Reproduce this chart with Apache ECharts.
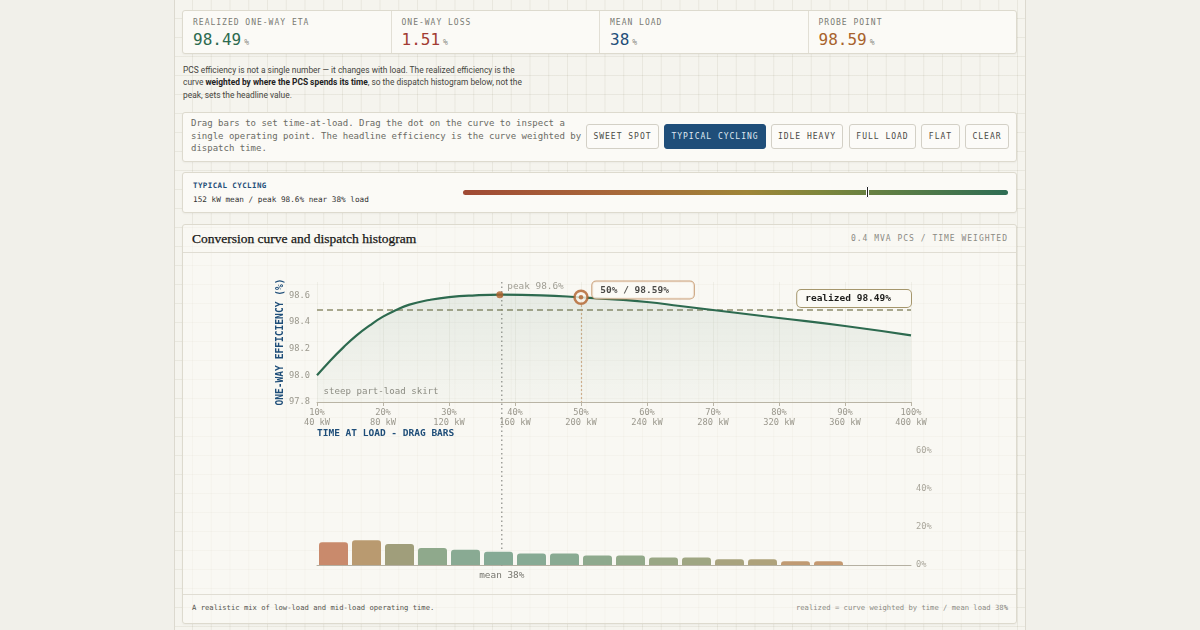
<!DOCTYPE html>
<html>
<head>
<meta charset="utf-8">
<title>Conversion curve and dispatch histogram</title>
<script src="https://cdn.jsdelivr.net/npm/echarts@6/dist/echarts.min.js"></script>
<style>
  * { box-sizing: border-box; }
  html, body { margin: 0; width: 1200px; height: 630px; overflow: hidden; background: #f1f0ea; }
  body { position: relative; font-family: 'DejaVu Sans Mono', monospace; color: #333; }
  .sheet {
    position: absolute; left: 174px; top: 0; width: 852px; height: 630px;
    border-left: 1px solid #dcd9cf; border-right: 1px solid #dcd9cf;
    background-color: #f5f4ee;
    background-image: linear-gradient(to right, rgba(70,60,20,.07) 1px, transparent 1px),
                      linear-gradient(to bottom, rgba(70,60,20,.07) 1px, transparent 1px);
    background-size: 18.75px 19px; background-position: 17px 18px;
  }
  .card {
    position: absolute; left: 182px; width: 835px; background: #fbfaf6;
    border: 1px solid #dddace; border-radius: 3px; box-shadow: 0 1px 2px rgba(0,0,0,.04);
  }
  .kpis { top: 10px; height: 44px; display: flex; }
  .kpi { flex: 1; padding: 7px 0 0 10px; border-left: 1px solid #e2dfd5; }
  .kpi:first-child { border-left: none; }
  .kpi .lab { font-size: 8px; line-height: 10px; letter-spacing: 1px; color: #7a7a74; }
  .kpi .val { font-size: 16px; line-height: 18px; margin-top: 3px; }
  .kpi .val small { font-size: 8px; color: #8a8a84; margin-left: 3px; }
  .intro {
    position: absolute; left: 183px; top: 64px; font-family: Roboto, sans-serif;
    font-size: 8.4px; line-height: 12.4px; color: #454540; white-space: nowrap;
  }
  .intro b { color: #222; font-weight: bold; }
  .controls { top: 112px; height: 50px; }
  .controls .txt {
    position: absolute; left: 8px; top: 4px; font-size: 9px; line-height: 12.7px;
    color: #6a6a64; white-space: nowrap;
  }
  .btn {
    position: absolute; top: 11px; height: 25px; border: 1px solid #d3d0c6; border-radius: 3px;
    background: #fcfbf8; font-size: 8px; letter-spacing: 1px; color: #4a4a46;
    display: flex; align-items: center; justify-content: center;
  }
  .btn.on { background: #1f4e79; border-color: #1f4e79; color: #dfe8f1; }
  .preset { top: 172px; height: 41px; }
  .preset .ttl { position: absolute; left: 10px; top: 8px; font-size: 7.5px; font-weight: bold; letter-spacing: .4px; color: #1f4e79; }
  .preset .sub { position: absolute; left: 10px; top: 22px; font-size: 7.7px; color: #333; }
  .scale {
    position: absolute; left: 280px; top: 16.5px; width: 545px; height: 5.5px; border-radius: 3px;
    background: linear-gradient(90deg, #a04a34 0%, #a8683a 28%, #9f8538 52%, #7d863c 66%, #5b7d45 80%, #2e6d54 100%);
  }
  .tick {
    position: absolute; left: 683px; top: 13px; width: 3px; height: 12px;
    background: #222; border: 0.5px solid #fff; border-radius: 1px;
  }
  .chartcard { top: 224px; height: 400px; background: rgba(251,250,246,.62); }
  .chartcard .head {
    position: absolute; left: 0; right: 0; top: 0; height: 28px; border-bottom: 1px solid #e0ddd3;
  }
  .chartcard .title {
    position: absolute; left: 9px; top: 6px; font-family: 'Liberation Serif', serif;
    font-size: 13.5px; color: #161614; -webkit-text-stroke: 0.25px #161614;
  }
  .chartcard .meta {
    position: absolute; right: 8px; top: 9px; font-size: 8px; letter-spacing: 1px; color: #8b8a83;
  }
  .chartcard .foot {
    position: absolute; left: 0; right: 0; top: 369px; height: 28px; border-top: 1px solid #e0ddd3;
    font-size: 7.2px; color: #55554f;
  }
  .foot .l { position: absolute; left: 9px; top: 8px; }
  .foot .r { position: absolute; right: 8px; top: 8px; color: #8b8a83; }
  #chart { position: absolute; left: 182px; top: 253px; width: 835px; height: 341px; }
</style>
</head>
<body>
<div class="sheet"></div>

<div class="card kpis">
  <div class="kpi"><div class="lab">REALIZED ONE-WAY ETA</div><div class="val" style="color:#2d6a4f">98.49<small>%</small></div></div>
  <div class="kpi"><div class="lab">ONE-WAY LOSS</div><div class="val" style="color:#a23b33">1.51<small>%</small></div></div>
  <div class="kpi"><div class="lab">MEAN LOAD</div><div class="val" style="color:#1f4e79">38<small>%</small></div></div>
  <div class="kpi"><div class="lab">PROBE POINT</div><div class="val" style="color:#a8632c">98.59<small>%</small></div></div>
</div>

<div class="intro">
  PCS efficiency is not a single number — it changes with load. The realized efficiency is the<br>
  curve <b>weighted by where the PCS spends its time</b>, so the dispatch histogram below, not the<br>
  peak, sets the headline value.
</div>

<div class="card controls">
  <div class="txt">Drag bars to set time-at-load. Drag the dot on the curve to inspect a<br>single operating point. The headline efficiency is the curve weighted by<br>dispatch time.</div>
  <div class="btn" style="left:403px;width:73px">SWEET SPOT</div>
  <div class="btn on" style="left:481px;width:102px">TYPICAL CYCLING</div>
  <div class="btn" style="left:588px;width:72px">IDLE HEAVY</div>
  <div class="btn" style="left:666px;width:67px">FULL LOAD</div>
  <div class="btn" style="left:738px;width:39px">FLAT</div>
  <div class="btn" style="left:782px;width:44px">CLEAR</div>
</div>

<div class="card preset">
  <div class="ttl">TYPICAL CYCLING</div>
  <div class="sub">152 kW mean / peak 98.6% near 38% load</div>
  <div class="scale"></div>
  <div class="tick"></div>
</div>

<div class="card chartcard">
  <div class="head">
    <div class="title">Conversion curve and dispatch histogram</div>
    <div class="meta">0.4 MVA PCS / TIME WEIGHTED</div>
  </div>
  <div class="foot">
    <div class="l">A realistic mix of low-load and mid-load operating time.</div>
    <div class="r">realized = curve weighted by time / mean load 38%</div>
  </div>
</div>

<div id="chart"></div>

<script>
// conversion curve: load (% of rating) vs one-way efficiency (%)
const curveLoad = [10, 12, 14, 16, 18, 20, 22, 24, 27, 30, 34, 38, 44, 50, 55, 60, 65, 70, 80, 90, 100];
const curveEff = [98.00, 98.11, 98.21, 98.30, 98.375, 98.44, 98.49, 98.53, 98.565, 98.587, 98.60, 98.605,
                  98.60, 98.585, 98.57, 98.55, 98.52, 98.49, 98.43, 98.37, 98.30];

// dispatch histogram: 5% load bins, share of time (%)
const binStart = [10, 15, 20, 25, 30, 35, 40, 45, 50, 55, 60, 65, 70, 75, 80, 85, 90, 95];
const timeShare = [12, 13, 11, 9, 8, 7, 6, 6, 5, 5, 4, 4, 3, 3, 2, 2, 0, 0];

// tick labels
const loadTicks = [10, 20, 30, 40, 50, 60, 70, 80, 90, 100];
const kwTicks = ['40 kW', '80 kW', '120 kW', '160 kW', '200 kW', '240 kW', '280 kW', '320 kW', '360 kW', '400 kW'];

// annotations
const realizedEff = 98.49;
const meanLoad = 38;
const peakPoint = [37.7, 98.605];
const probePoint = [50, 98.585];
const peakText = 'peak 98.6%';
const probeText = '50% / 98.59%';
const realizedText = 'realized 98.49%';
const meanText = 'mean 38%';
const skirtText = 'steep part-load skirt';
const histTitle = 'TIME AT LOAD - DRAG BARS';

const EFF_MIN = 97.8, EFF_MAX = 98.7, BIN = 5;
const MONO = '"DejaVu Sans Mono", monospace';
const barColors = ['#c98a6c', '#b99a70', '#a09e7b', '#8fa98c', '#89aa93', '#86aa95', '#87aa94', '#89aa92',
                   '#8ea98d', '#93a98a', '#9aa785', '#9fa682', '#a8a37e', '#aea27b', '#c09a72', '#c49870',
                   '#c49870', '#c49870'];

const chart = echarts.init(document.getElementById('chart'));

const option = {
  animation: false,
  textStyle: { fontFamily: MONO },
  grid: [
    { left: 135, width: 594, top: 29, height: 120 },
    { left: 135, width: 594, top: 179, height: 133 }
  ],
  xAxis: [
    {
      type: 'value', gridIndex: 0, min: 10, max: 100, interval: 10,
      axisLine: { lineStyle: { color: '#b9b4a5' } },
      axisTick: { show: true, length: 4, lineStyle: { color: '#b9b4a5' } },
      axisLabel: {
        color: '#9a978c', fontSize: 8.7, lineHeight: 10.5, margin: 5,
        formatter: v => {
          const i = loadTicks.indexOf(v);
          return i < 0 ? '' : v + '%\n' + kwTicks[i];
        }
      },
      splitLine: { show: true, lineStyle: { color: 'rgba(90,80,40,0.06)' } }
    },
    {
      type: 'value', gridIndex: 1, min: 10, max: 100,
      axisLine: { lineStyle: { color: '#b5b0a2' } },
      axisTick: { show: false }, axisLabel: { show: false }, splitLine: { show: false }
    }
  ],
  yAxis: [
    {
      type: 'value', gridIndex: 0, min: EFF_MIN, max: EFF_MAX, interval: 0.2,
      axisLine: { show: false }, axisTick: { show: false }, splitLine: { show: false },
      axisLabel: { color: '#9a978c', fontSize: 8.7, margin: 7, showMaxLabel: false, formatter: v => v.toFixed(1) },
      name: 'ONE-WAY EFFICIENCY (%)', nameLocation: 'middle', nameGap: 32, nameMoveOverlap: false,
      nameTextStyle: { color: '#1f4e79', fontWeight: 'bold', fontSize: 9.6, fontFamily: MONO }
    },
    {
      type: 'value', gridIndex: 1, position: 'right', min: 0, max: 70, interval: 20,
      axisLine: { show: false }, axisTick: { show: false }, splitLine: { show: false },
      axisLabel: { color: '#a9a69b', fontSize: 8.7, margin: 5, showMaxLabel: false, formatter: v => v + '%' }
    }
  ],
  series: [
    {
      name: 'curve', type: 'line', xAxisIndex: 0, yAxisIndex: 0,
      data: curveLoad.map((x, i) => [x, curveEff[i]]),
      smooth: 0.5, showSymbol: false, z: 3,
      lineStyle: { color: '#2d6a4f', width: 2.2 },
      areaStyle: {
        origin: 'start',
        color: new echarts.graphic.LinearGradient(0, 0, 0, 1, [
          { offset: 0, color: 'rgba(45,106,79,0.13)' },
          { offset: 1, color: 'rgba(45,106,79,0.03)' }
        ])
      },
      markLine: {
        silent: true, symbol: ['none', 'none'], z: 2,
        lineStyle: { color: '#8d8c6c', type: [6, 4], width: 1.6 },
        label: {
          position: 'insideEndTop', distance: [0, 3], formatter: realizedText,
          color: '#1e1e1c', fontWeight: 'bold', fontSize: 9.5, fontFamily: MONO, lineHeight: 11,
          backgroundColor: '#fbfaf5', borderColor: '#a5966c', borderWidth: 1, borderRadius: 4,
          padding: [3, 20, 3, 8]
        },
        data: [{ yAxis: realizedEff }]
      }
    },
    {
      name: 'peak', type: 'scatter', xAxisIndex: 0, yAxisIndex: 0, z: 5,
      data: [peakPoint], symbolSize: 7, itemStyle: { color: '#b0602b' },
      label: {
        show: true, position: 'right', offset: [-1, -8], formatter: peakText,
        color: '#8a877c', fontSize: 9.4, fontFamily: MONO
      }
    },
    {
      name: 'probe', type: 'scatter', xAxisIndex: 0, yAxisIndex: 0, z: 6,
      data: [probePoint], symbolSize: 13,
      itemStyle: { color: '#f9f5ec', borderColor: '#b0602b', borderWidth: 2.5 },
      label: {
        show: true, position: [19, -8], formatter: probeText,
        color: '#1e1e1c', fontWeight: 'bold', fontSize: 9.5, fontFamily: MONO, lineHeight: 11,
        backgroundColor: '#fbfaf5', borderColor: '#bf8d5e', borderWidth: 1, borderRadius: 4,
        padding: [3, 25, 3, 8]
      },
      markLine: {
        silent: true, symbol: ['none', 'none'], z: 2,
        lineStyle: { color: '#c99a70', type: [1.5, 2.5], width: 1.2 },
        label: { show: false },
        data: [[{ coord: probePoint }, { coord: [probePoint[0], EFF_MIN] }]]
      }
    },
    {
      name: 'probe-dot', type: 'scatter', xAxisIndex: 0, yAxisIndex: 0, z: 7,
      data: [probePoint], symbolSize: 4.5, itemStyle: { color: '#b0602b' }, silent: true
    },
    {
      name: 'time', type: 'bar', xAxisIndex: 1, yAxisIndex: 1, barWidth: 29,
      data: timeShare.map((v, i) => ({
        value: [binStart[i] + BIN / 2, v],
        itemStyle: { color: barColors[i], borderRadius: [3, 3, 0, 0] }
      }))
    }
  ]
};

chart.setOption(option);

const meanTop = chart.convertToPixel({ gridIndex: 0 }, [meanLoad, EFF_MAX]);
const meanBottom = chart.convertToPixel({ gridIndex: 1 }, [meanLoad, 0]);
const skirtAt = chart.convertToPixel({ gridIndex: 0 }, [11, 97.88]);
const histLeft = chart.convertToPixel({ gridIndex: 1 }, [10, 70]);

chart.setOption({
  graphic: [
    {
      type: 'line', z: 1, silent: true,
      shape: { x1: meanTop[0], y1: meanTop[1], x2: meanBottom[0], y2: meanBottom[1] + 1 },
      style: { stroke: '#8a8a86', lineWidth: 1.2, lineDash: [1.5, 3] }
    },
    {
      type: 'text', silent: true, x: meanBottom[0], y: meanBottom[1] + 11,
      style: { text: meanText, fill: '#77766f', font: '9.4px ' + MONO, align: 'center', verticalAlign: 'middle' }
    },
    {
      type: 'text', silent: true, x: skirtAt[0], y: skirtAt[1],
      style: { text: skirtText, fill: '#8f8d84', font: '9.1px ' + MONO, align: 'left', verticalAlign: 'middle' }
    },
    {
      type: 'text', silent: true, x: histLeft[0], y: histLeft[1] + 2,
      style: { text: histTitle, fill: '#1f4e79', font: 'bold 9.5px ' + MONO, align: 'left', verticalAlign: 'middle' }
    }
  ]
});
</script>
</body>
</html>
